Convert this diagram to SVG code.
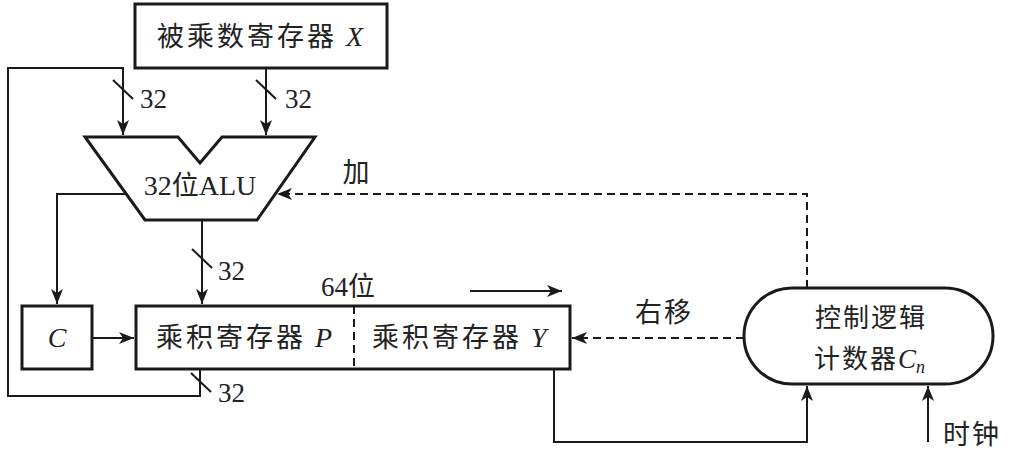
<svg xmlns="http://www.w3.org/2000/svg" width="1018" height="471" viewBox="0 0 1018 471">
<style>
.box{fill:#fff;stroke:#1a1a1a;stroke-width:3}
.ln{fill:none;stroke:#1a1a1a;stroke-width:2}
.dash{fill:none;stroke:#1a1a1a;stroke-width:2;stroke-dasharray:8 5}
.cn{font-family:"Noto Sans CJK SC","Liberation Serif",serif;font-size:27px;fill:#222;letter-spacing:2px}
.num{font-family:"Liberation Serif",serif;font-size:27px;fill:#222}
.it{font-family:"Liberation Serif",serif;font-style:italic;font-size:28px;fill:#222}
</style>
<defs>
<marker id="ah" markerUnits="userSpaceOnUse" markerWidth="16" markerHeight="12" refX="15" refY="6" orient="auto">
<path d="M0,0 L15,6 L0,12 L4,6 z" fill="#1a1a1a"/>
</marker>
</defs>
<g id="connectors">
<polyline class="ln" points="200,369 200,396 8,396 8,68 123,68 123,135" marker-end="url(#ah)"/>
<line class="ln" x1="266" y1="68" x2="266" y2="135" marker-end="url(#ah)"/>
<polyline class="ln" points="126,194 57,194 57,304" marker-end="url(#ah)"/>
<line class="ln" x1="202" y1="220" x2="202" y2="304" marker-end="url(#ah)"/>
<line class="ln" x1="92" y1="338" x2="134" y2="338" marker-end="url(#ah)"/>
<polyline class="ln" points="554,369 554,442 807,442 807,386" marker-end="url(#ah)"/>
<line class="ln" x1="928" y1="442" x2="928" y2="386" marker-end="url(#ah)"/>
<polyline class="dash" points="807,288 807,194 277,194" marker-end="url(#ah)"/>
<line class="dash" x1="744" y1="338" x2="572" y2="338" marker-end="url(#ah)"/>
<line class="ln" x1="470" y1="291" x2="562" y2="291" marker-end="url(#ah)"/>
<line class="ln" x1="113" y1="80" x2="133" y2="99"/>
<line class="ln" x1="256" y1="80" x2="276" y2="99"/>
<line class="ln" x1="192" y1="249" x2="212" y2="268"/>
<line class="ln" x1="191" y1="373" x2="211" y2="392"/>
<text class="num" x="140" y="108">32</text>
<text class="num" x="285" y="108">32</text>
<text class="num" x="218" y="280">32</text>
<text class="num" x="218" y="402">32</text>
<text class="cn" x="357" y="182" text-anchor="middle">加</text>
<text class="cn" x="664" y="322" text-anchor="middle">右移</text>
<text class="num" x="321" y="296">64<tspan style="font-family:'Noto Sans CJK SC',serif">位</tspan></text>
</g>
<g id="regX">
<rect class="box" x="135" y="4" width="252" height="64"/>
<text class="cn" x="157" y="46" style="letter-spacing:3px">被乘数寄存器 <tspan class="it" style="letter-spacing:0">X</tspan></text>
</g>
<g id="alu">
<polygon class="box" points="85,137 178,137 200,163 222,137 315,137 257,220 145,220"/>
<text x="200" y="195" text-anchor="middle" class="num" style="font-size:28px">32<tspan style="font-family:'Noto Sans CJK SC',serif;font-size:27px">位</tspan>ALU</text>
</g>
<g id="regC">
<rect class="box" x="22" y="306" width="70" height="63"/>
<text class="it" x="57" y="347" text-anchor="middle">C</text>
</g>
<g id="regPY">
<rect class="box" x="136" y="306" width="434" height="63"/>
<line class="dash" x1="354" y1="306" x2="354" y2="369"/>
<text class="cn" x="156" y="347" style="letter-spacing:3px">乘积寄存器 <tspan class="it" style="letter-spacing:0">P</tspan></text>
<text class="cn" x="372" y="347" style="letter-spacing:3px">乘积寄存器 <tspan class="it" style="letter-spacing:0">Y</tspan></text>
</g>
<g id="ctrl">
<rect class="box" x="744" y="288" width="249" height="96" rx="48" ry="48"/>
<text class="cn" x="871" y="327" text-anchor="middle" style="font-size:26px">控制逻辑</text>
<text class="cn" x="814" y="368" style="font-size:26px">计数器<tspan class="it" style="letter-spacing:0;font-size:27px">C</tspan><tspan class="it" style="font-size:18px;letter-spacing:0" dy="5">n</tspan></text>
</g>
<g id="clock">
<text class="cn" x="943" y="444">时钟</text>
</g>
</svg>
